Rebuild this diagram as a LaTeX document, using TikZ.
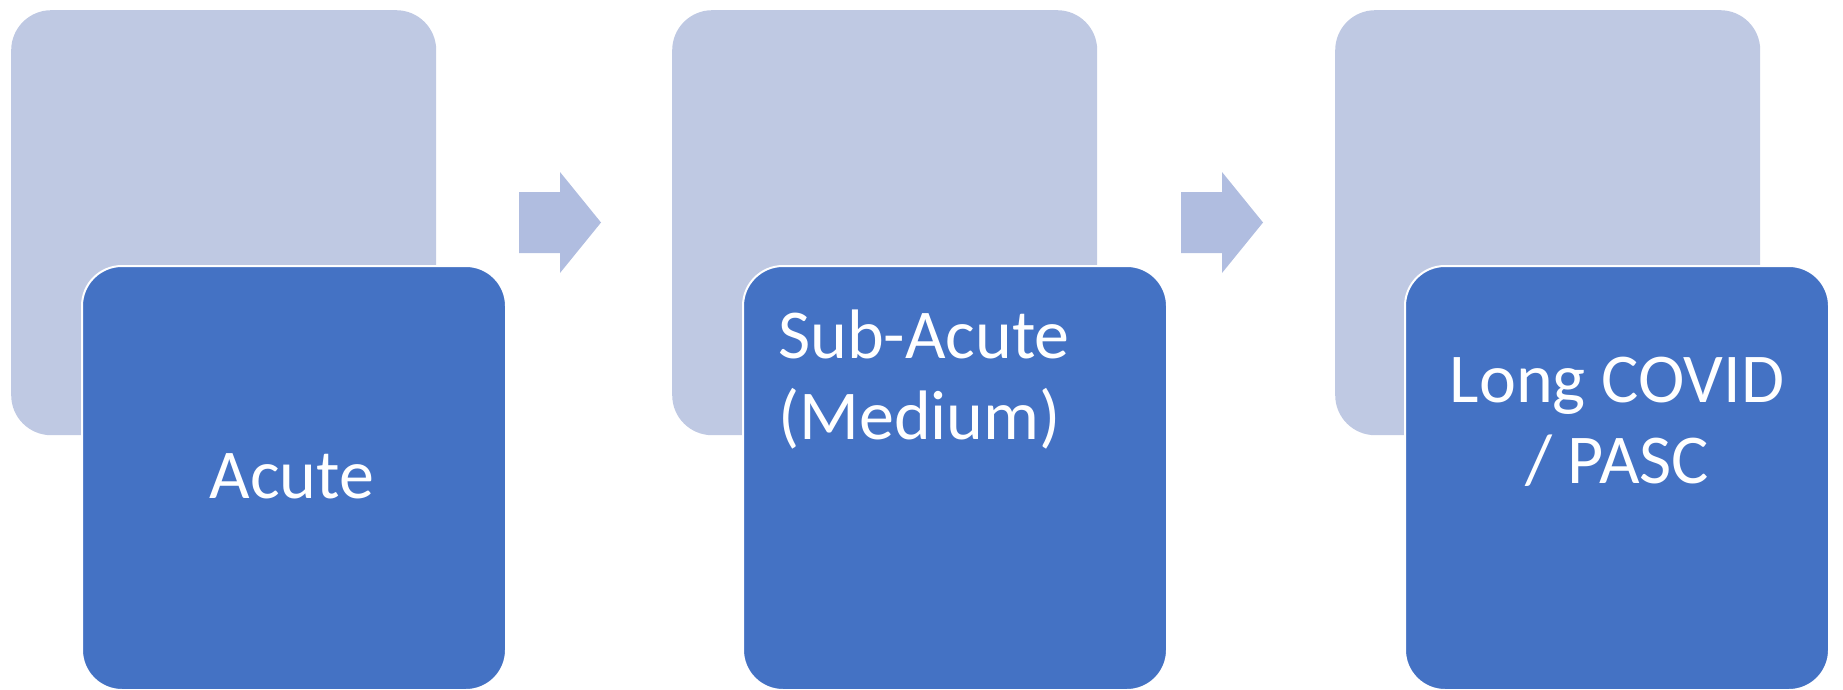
\documentclass[tikz,border=0pt]{standalone}
\usepackage{fontspec}
\setmainfont{Carlito}
\definecolor{paleblue}{RGB}{191,201,227}
\definecolor{arrowblue}{RGB}{176,189,224}
\definecolor{stageblue}{RGB}{68,114,196}
\begin{document}
\begin{tikzpicture}[x=1pt,y=-1pt,
  backcard/.style={fill=paleblue, rounded corners=40pt, minimum width=425pt,
    minimum height=425pt, inner sep=0pt, anchor=north west},
  stagecard/.style={fill=stageblue, draw=white, line width=2pt, rounded corners=40pt,
    minimum width=424pt, minimum height=424pt, inner sep=0pt, anchor=north west},
  stagetext/.style={text=white, font=\fontsize{70}{81}\selectfont, inner sep=0pt},
  flowarrow/.style={fill=arrowblue}]
\useasboundingbox (0,0) rectangle (1843,690);

% back cards
\node[backcard] (bg1) at (11,10) {};
\node[backcard] (bg2) at (672,10) {};
\node[backcard] (bg3) at (1335,10) {};

% block arrows between the stages
\foreach \dx in {0,662}{
  \fill[flowarrow, xshift=\dx pt] (519,192) -- (560,192) -- (560,172) -- (601,222.5)
    -- (560,273) -- (560,253) -- (519,253) -- cycle;
}

% stage cards
\node[stagecard] (st1) at (81,265) {};
\node[stagecard] (st2) at (742,265) {};
\node[stagecard] (st3) at (1404,265) {};

% stage labels (base anchor sits on the last line's baseline)
\node[stagetext, anchor=base] (t1) at (292,498) {Acute};
\node[stagetext, anchor=base west, align=left] (t2) at (778,439) {Sub-Acute\\(Medium)};
\node[stagetext, anchor=base, align=center] (t3) at (1617,483) {Long COVID\\/ PASC};
\end{tikzpicture}
\end{document}
